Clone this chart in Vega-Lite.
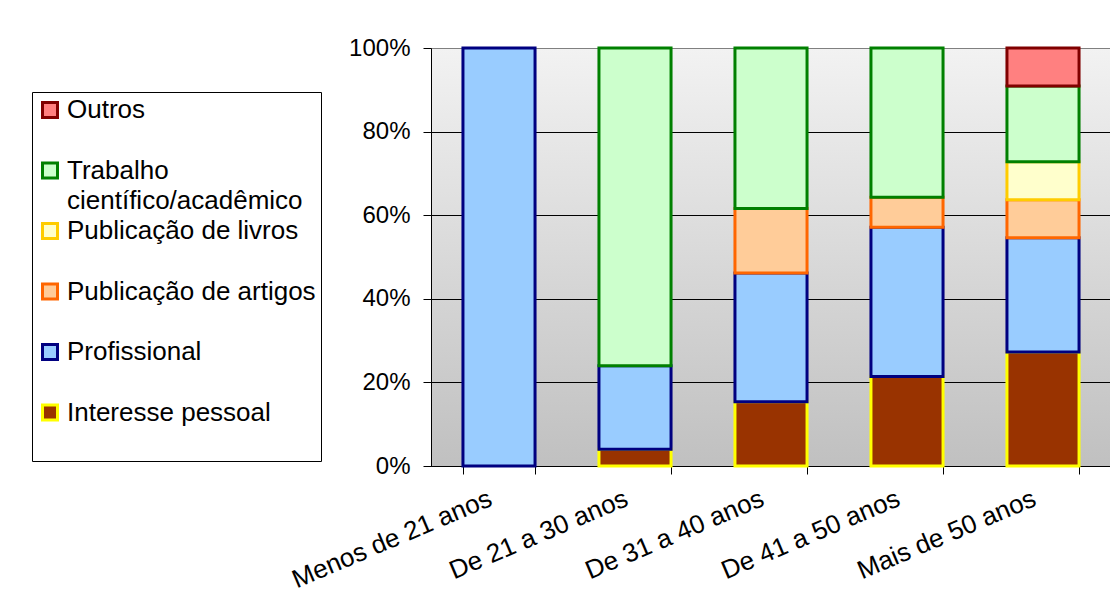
{
  "$schema": "https://vega.github.io/schema/vega-lite/v6.json",
  "width": 680,
  "height": 418,
  "autosize": {"type": "none"},
  "padding": {"left": 431, "top": 48, "right": 0, "bottom": 137},
  "background": "white",
  "config": {
    "font": "Liberation Sans",
    "view": {
      "stroke": "#808080",
      "strokeWidth": 1,
      "fill": {
        "gradient": "linear",
        "x1": 0, "y1": 0, "x2": 0, "y2": 1,
        "stops": [
          {"offset": 0, "color": "#f2f2f2"},
          {"offset": 1, "color": "#c0c0c0"}
        ]
      }
    },
    "legend": {
      "orient": "none",
      "direction": "vertical",
      "legendX": -399,
      "legendY": 44,
      "padding": 5,
      "strokeColor": "black",
      "fillColor": "white",
      "gridAlign": "all",
      "rowPadding": 3.5,
      "labelFont": "Liberation Sans",
      "labelFontSize": 26,
      "labelColor": "black",
      "labelLimit": 500,
      "labelOffset": 4,
      "labelBaseline": "middle",
      "symbolType": "square",
      "symbolSize": 225,
      "symbolStrokeWidth": 3,
      "symbolOpacity": 1
    }
  },
  "data": {
    "values": [
      {"idade": "Menos de 21 anos", "motivo": "Profissional", "ordem": 2, "pct": 100},
      {"idade": "De 21 a 30 anos", "motivo": "Interesse pessoal", "ordem": 1, "pct": 4},
      {"idade": "De 21 a 30 anos", "motivo": "Profissional", "ordem": 2, "pct": 20},
      {"idade": "De 21 a 30 anos", "motivo": "Trabalho científico/acadêmico", "ordem": 5, "pct": 76},
      {"idade": "De 31 a 40 anos", "motivo": "Interesse pessoal", "ordem": 1, "pct": 15.4},
      {"idade": "De 31 a 40 anos", "motivo": "Profissional", "ordem": 2, "pct": 30.8},
      {"idade": "De 31 a 40 anos", "motivo": "Publicação de artigos", "ordem": 3, "pct": 15.4},
      {"idade": "De 31 a 40 anos", "motivo": "Trabalho científico/acadêmico", "ordem": 5, "pct": 38.4},
      {"idade": "De 41 a 50 anos", "motivo": "Interesse pessoal", "ordem": 1, "pct": 21.4},
      {"idade": "De 41 a 50 anos", "motivo": "Profissional", "ordem": 2, "pct": 35.7},
      {"idade": "De 41 a 50 anos", "motivo": "Publicação de artigos", "ordem": 3, "pct": 7.2},
      {"idade": "De 41 a 50 anos", "motivo": "Trabalho científico/acadêmico", "ordem": 5, "pct": 35.7},
      {"idade": "Mais de 50 anos", "motivo": "Interesse pessoal", "ordem": 1, "pct": 27.3},
      {"idade": "Mais de 50 anos", "motivo": "Profissional", "ordem": 2, "pct": 27.3},
      {"idade": "Mais de 50 anos", "motivo": "Publicação de artigos", "ordem": 3, "pct": 9.1},
      {"idade": "Mais de 50 anos", "motivo": "Publicação de livros", "ordem": 4, "pct": 9.1},
      {"idade": "Mais de 50 anos", "motivo": "Trabalho científico/acadêmico", "ordem": 5, "pct": 18.1},
      {"idade": "Mais de 50 anos", "motivo": "Outros", "ordem": 6, "pct": 9.1}
    ]
  },
  "mark": {"type": "bar", "strokeWidth": 3, "strokeJoin": "miter"},
  "encoding": {
    "x": {
      "field": "idade",
      "type": "nominal",
      "sort": ["Menos de 21 anos", "De 21 a 30 anos", "De 31 a 40 anos", "De 41 a 50 anos", "Mais de 50 anos"],
      "scale": {"paddingInner": 0.47, "paddingOuter": 0.235},
      "title": null,
      "axis": {
        "labelAngle": -23,
        "labelAlign": "right",
        "labelBaseline": "top",
        "labelFontSize": 26,
        "labelColor": "black",
        "labelLimit": 600,
        "labelPadding": 11,
        "labelOffset": -14,
        "tickBand": "extent",
        "tickSize": 8,
        "tickColor": "black",
        "domainColor": "black",
        "grid": false
      }
    },
    "y": {
      "field": "pct",
      "type": "quantitative",
      "stack": "normalize",
      "scale": {"domain": [0, 1]},
      "title": null,
      "axis": {
        "values": [0, 0.2, 0.4, 0.6, 0.8, 1],
        "format": ".0%",
        "labelFontSize": 24,
        "labelColor": "black",
        "labelPadding": 13,
        "tickSize": 8,
        "tickColor": "black",
        "domainColor": "black",
        "grid": true,
        "gridColor": {"condition": {"test": "datum.value >= 1", "value": "#808080"}, "value": "black"},
        "gridOpacity": 1
      }
    },
    "order": {"field": "ordem", "type": "quantitative", "sort": "ascending"},
    "color": {
      "field": "motivo",
      "type": "nominal",
      "sort": ["Outros", "Trabalho científico/acadêmico", "Publicação de livros", "Publicação de artigos", "Profissional", "Interesse pessoal"],
      "scale": {
        "domain": ["Outros", "Trabalho científico/acadêmico", "Publicação de livros", "Publicação de artigos", "Profissional", "Interesse pessoal"],
        "range": ["#ff8080", "#ccffcc", "#ffffcc", "#ffcc99", "#99ccff", "#993300"]
      },
      "legend": {
        "title": null,
        "labelExpr": "datum.value === 'Trabalho científico/acadêmico' ? ['Trabalho', 'científico/acadêmico'] : datum.value === 'Interesse pessoal' ? ['Interesse pessoal', ''] : datum.label",
        "encode": {
          "labels": {
            "update": {
              "lineHeight": {"value": 30}
            }
          }
        }
      }
    },
    "stroke": {
      "field": "motivo",
      "type": "nominal",
      "sort": ["Outros", "Trabalho científico/acadêmico", "Publicação de livros", "Publicação de artigos", "Profissional", "Interesse pessoal"],
      "scale": {
        "domain": ["Outros", "Trabalho científico/acadêmico", "Publicação de livros", "Publicação de artigos", "Profissional", "Interesse pessoal"],
        "range": ["#800000", "#008000", "#ffcc00", "#ff6600", "#000080", "#ffff00"]
      },
      "legend": {
        "title": null,
        "labelExpr": "datum.value === 'Trabalho científico/acadêmico' ? ['Trabalho', 'científico/acadêmico'] : datum.value === 'Interesse pessoal' ? ['Interesse pessoal', ''] : datum.label",
        "encode": {
          "labels": {
            "update": {
              "lineHeight": {"value": 30}
            }
          }
        }
      }
    }
  }
}
